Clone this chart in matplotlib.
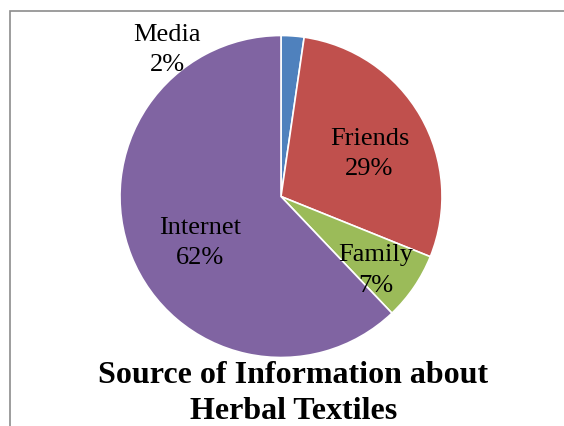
import matplotlib.pyplot as plt
from matplotlib.patches import Rectangle

# ─────── Data ───────
sources = ["Media", "Friends", "Family", "Internet"]
shares = [2.3, 28.8, 6.8, 62.1]
colors = ["#4F81BD", "#C0504D", "#9BBB59", "#8064A2"]
title = "Source of Information about\nHerbal Textiles"

# label placement (pie units, radius = 1)
label_pos = [(-0.708, 0.91), (0.550, 0.265), (0.590, -0.46), (-0.503, -0.29)]

plt.rcParams["font.family"] = ["Liberation Serif", "DejaVu Serif"]

W, H = 564, 426
fig = plt.figure(figsize=(W / 100, H / 100), dpi=100)

# chart area border (extends past the right / bottom edge)
fig.patches.append(Rectangle((10 / W, -0.1), 1.2, 1.1 - 11 / H, transform=fig.transFigure,
                             fill=False, edgecolor="#8c8c8c", linewidth=1.2))

cx, cy, r = 281, 196.5, 161
ax = fig.add_axes([(cx - r) / W, (H - cy - r) / H, 2 * r / W, 2 * r / H])
wedges, _ = ax.pie(shares, colors=colors, startangle=90, counterclock=False, radius=1,
                   wedgeprops=dict(edgecolor="white", linewidth=1.2))
ax.set_xlim(-1, 1)
ax.set_ylim(-1, 1)
ax.set_aspect("equal")
ax.axis("off")

for name, val, (x, y) in zip(sources, shares, label_pos):
    ax.text(x, y, f"{name}\n{val:.0f}%", ha="center", va="center", fontsize=19,
            linespacing=1.5, clip_on=False)

fig.text(293.5 / W, 1 - 419 / H, title, ha="center", va="baseline", fontsize=23,
         fontweight="bold", linespacing=1.3)

fig.savefig("out.png", dpi=100)
